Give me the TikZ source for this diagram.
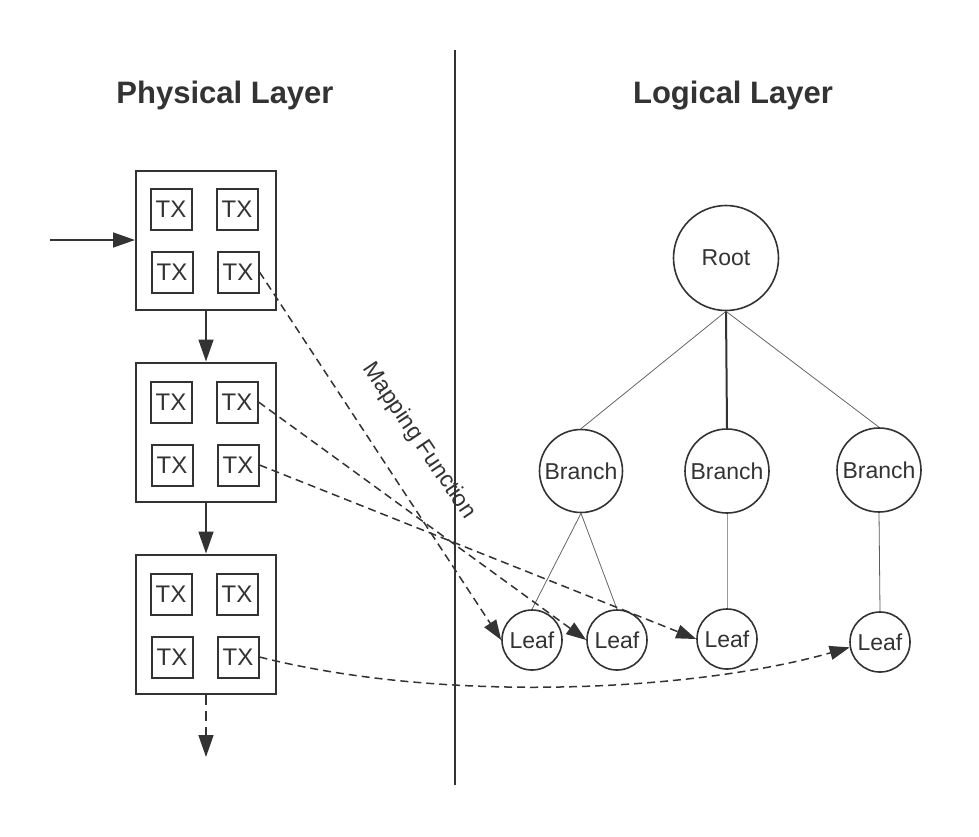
\documentclass[tikz,border=0pt]{standalone}
\usepackage{fontspec}
\setmainfont{Liberation Sans}
\usetikzlibrary{arrows.meta}
\definecolor{ink}{HTML}{333333}
\definecolor{thin}{HTML}{666666}
\begin{document}
\begin{tikzpicture}[x=1pt,y=-1pt,
  bigbox/.style={draw=ink, line width=2pt, minimum width=140pt, minimum height=139pt, inner sep=0pt},
  txbox/.style={draw=ink, line width=2pt, minimum size=41pt, inner sep=0pt, text=ink, font=\fontsize{24}{24}\selectfont},
  circnode/.style={circle, draw=ink, line width=1.6pt, inner sep=0pt, text=ink, font=\fontsize{23}{23}\selectfont},
  title/.style={text=ink, font=\fontsize{31}{31}\selectfont\bfseries, anchor=base},
  solidarrow/.style={draw=ink, line width=1.6pt, -{Triangle[length=22pt,width=15pt]}},
  dasharrow/.style={draw=ink, line width=1.5pt, dash pattern=on 8pt off 5pt, -{Triangle[length=20pt,width=14pt]}},
  thinline/.style={draw=thin, line width=0.8pt},
]
\useasboundingbox[fill=white] (0,0) rectangle (979,836);

% divider
\coordinate (dtop) at (455,50);
\coordinate (dbot) at (455,785);
\draw[ink, line width=1.5pt] (dtop) -- (dbot);

% titles
\node[title] (ptitle) at (225,103) {Physical Layer};
\node[title] (ltitle) at (733,103) {Logical Layer};

% physical blocks
\node[bigbox] (b1) at (206,240) {};
\node[bigbox] (b2) at (206,432) {};
\node[bigbox] (b3) at (206,624) {};

\node[txbox] (t11) at (171,209) {TX};
\node[txbox] (t12) at (237,209) {TX};
\node[txbox] (t13) at (172,272) {TX};
\node[txbox] (t14) at (238,272) {TX};

\node[txbox] (t21) at (171,402) {TX};
\node[txbox] (t22) at (237,402) {TX};
\node[txbox] (t23) at (172,465) {TX};
\node[txbox] (t24) at (238,465) {TX};

\node[txbox] (t31) at (171,594) {TX};
\node[txbox] (t32) at (237,594) {TX};
\node[txbox] (t33) at (172,657) {TX};
\node[txbox] (t34) at (238,657) {TX};

\coordinate (inlet) at (50,240);
\coordinate (outlet) at (206,757);
\draw[solidarrow] (inlet) -- (b1.west);
\draw[solidarrow] (b1.south) -- (b2.north);
\draw[solidarrow] (b2.south) -- (b3.north);
\draw[solidarrow, dash pattern=on 10pt off 6pt] (b3.south) -- (outlet);

% logical tree
\node[circnode, minimum size=105pt] (root) at (726,258) {Root};
\node[circnode, minimum size=83pt] (br1) at (581,471) {Branch};
\node[circnode, minimum size=84pt] (br2) at (727,471) {Branch};
\node[circnode, minimum size=84pt] (br3) at (879,470) {Branch};
\node[circnode, minimum size=60pt] (lfa) at (532,640) {Leaf};
\node[circnode, minimum size=60pt] (lfb) at (617,640) {Leaf};
\node[circnode, minimum size=60pt] (lf2) at (727,639) {Leaf};
\node[circnode, minimum size=60pt] (lf4) at (880,642) {Leaf};

\draw[thinline] (root.south) -- (br1.north);
\draw[ink, line width=2pt] (root.south) -- (br2.north);
\draw[thinline] (root.south) -- (br3.north);
\draw[thinline] (br1.south) -- (lfa.north);
\draw[thinline] (br1.south) -- (lfb.north);
\draw[draw=ink!50, line width=1pt] (br2.south) -- (lf2.north);
\draw[thinline, draw=ink!80] (br3.south) -- (lf4.north);

% mapping arrows
\draw[dasharrow] (t14.east) -- (lfa.west);
\draw[dasharrow] (t22.east) -- (lfb.west);
\draw[dasharrow] (t24.east) -- (lf2.west);
\draw[dasharrow] (t34.east) .. controls (450,705) and (700,690) .. (lf4.190);

\node[text=ink, font=\fontsize{23}{23}\selectfont, rotate=-56] (mapf) at (419,441) {Mapping Function};
\end{tikzpicture}
\end{document}
